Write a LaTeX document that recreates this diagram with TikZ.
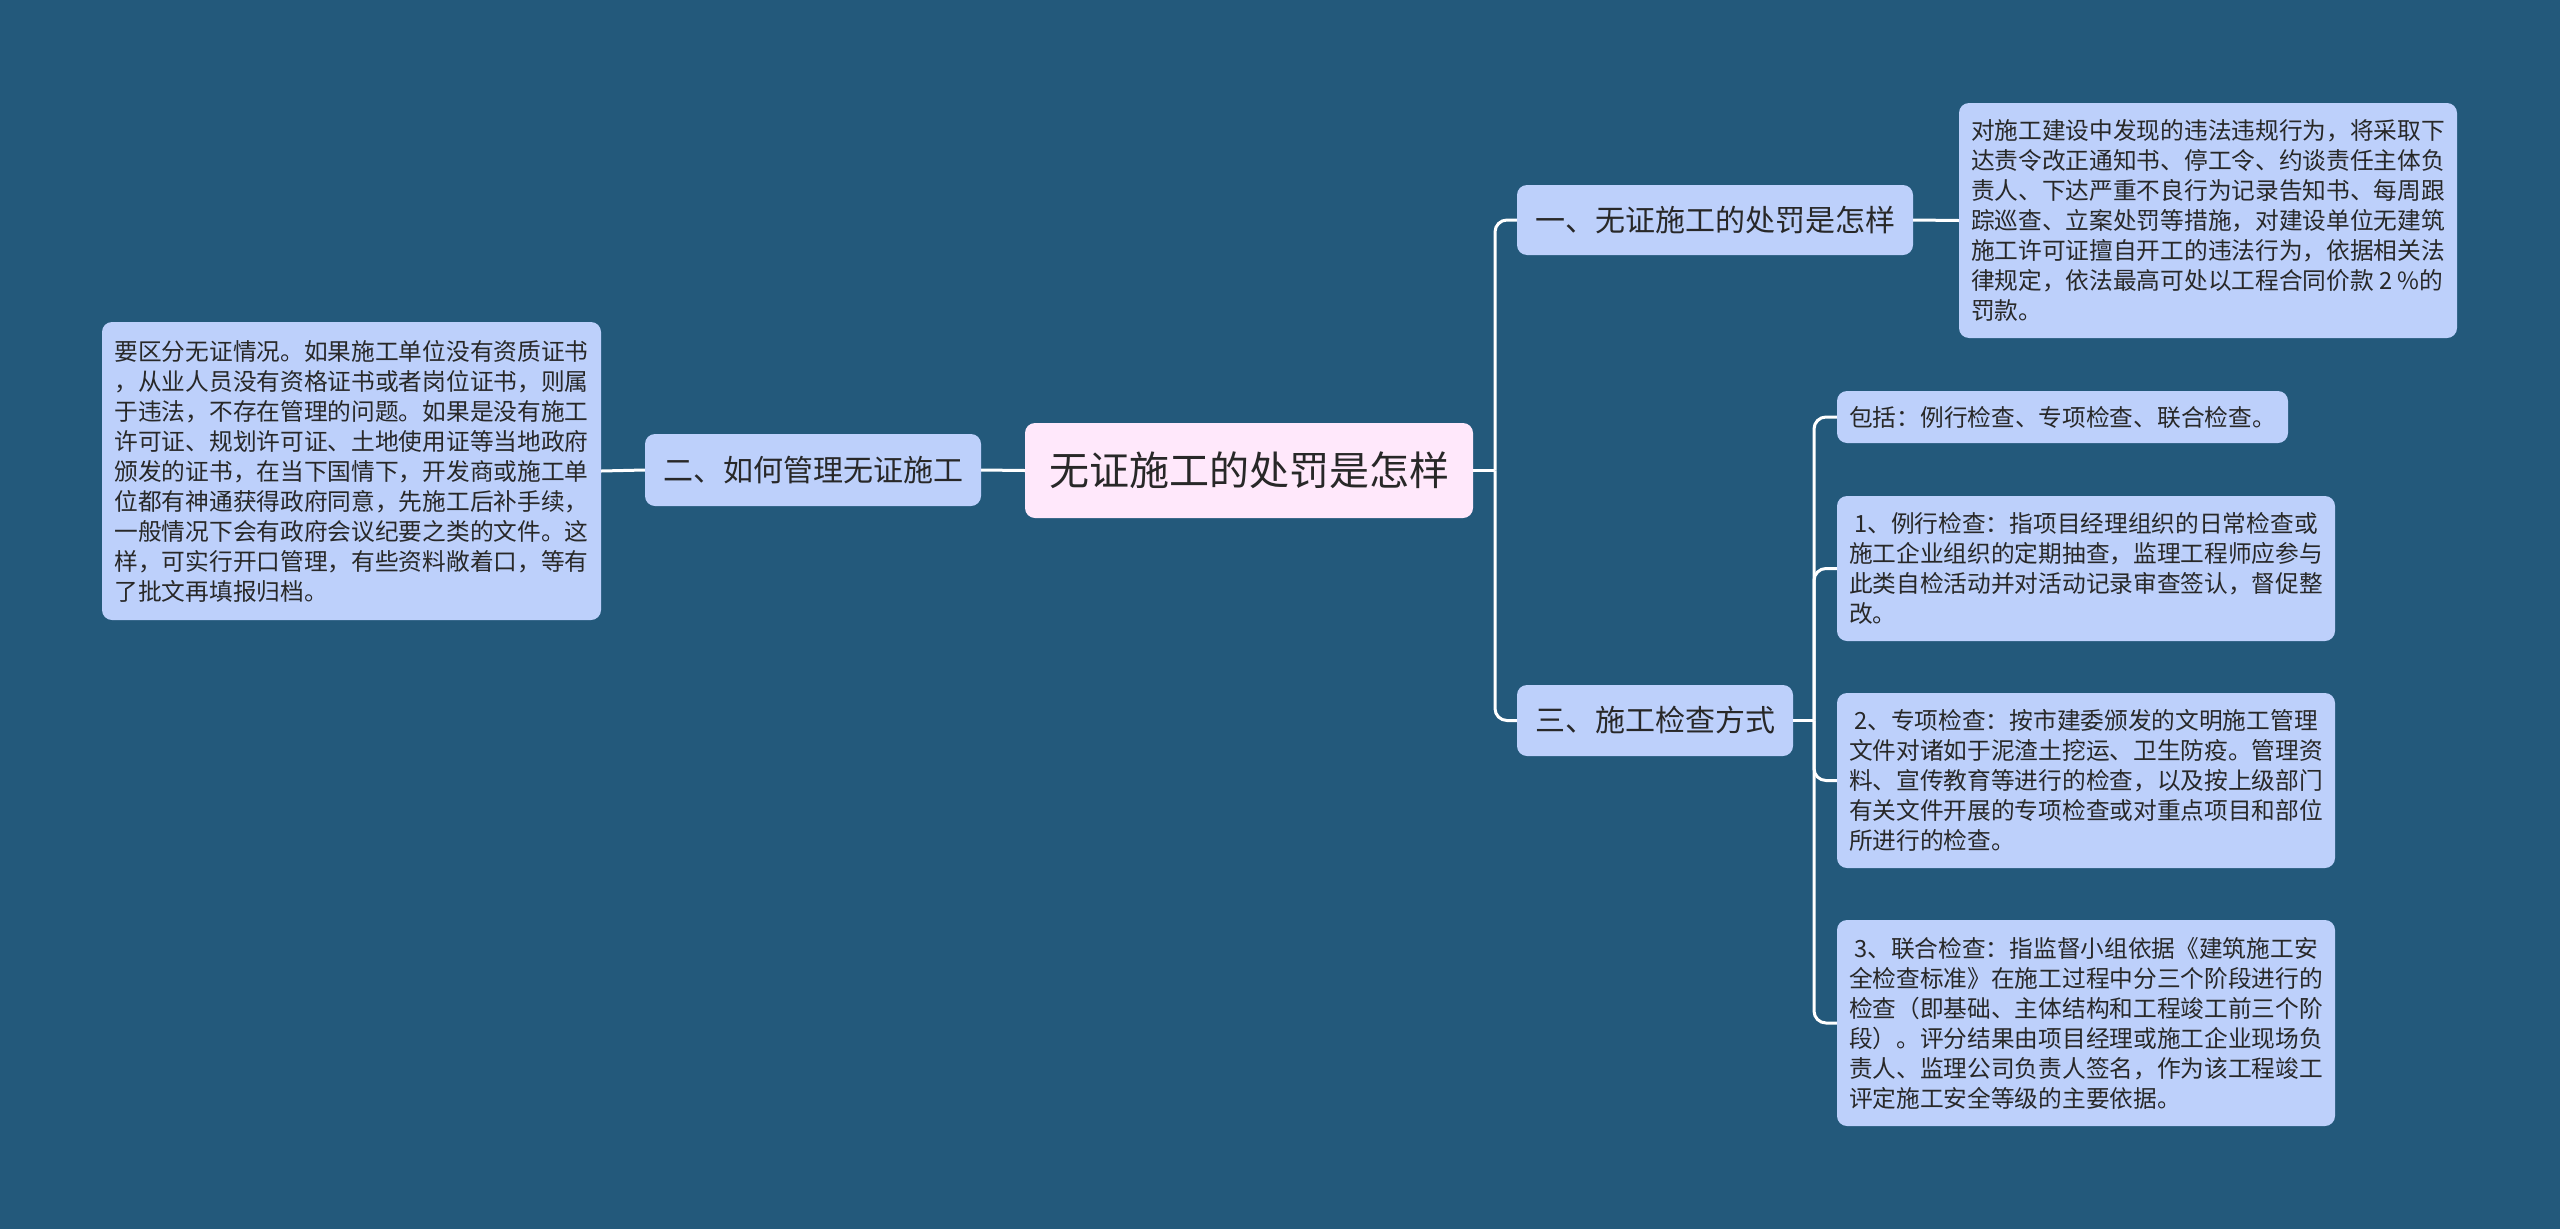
\documentclass[tikz,border=0pt]{standalone}
\usepackage{fontspec}
\setmainfont{Noto Sans CJK SC}
\definecolor{bgc}{RGB}{35,89,123}
\definecolor{boxc}{RGB}{189,208,251}
\definecolor{rootc}{RGB}{255,232,251}
\definecolor{txtc}{RGB}{40,40,40}
\tikzset{
  conn/.style={draw=white,line width=3pt,rounded corners=12pt},
  basebox/.style={fill=boxc,rounded corners=10pt,text=txtc,inner sep=0pt,anchor=center},
  rootbox/.style={basebox,fill=rootc,font=\fontsize{40}{48}\selectfont},
  branchbox/.style={basebox,font=\fontsize{30}{36}\selectfont},
  leafbox/.style={basebox,align=left,font=\fontsize{23.7}{30}\selectfont},
}
\begin{document}
\begin{tikzpicture}[x=1pt,y=-1pt]
\fill[bgc] (0,0) rectangle (2560,1229);
\useasboundingbox (0,0) rectangle (2560,1229);

\node[rootbox,minimum width=448pt,minimum height=95pt] (root) at (1249,470.5) {无证施工的处罚是怎样};

\node[branchbox,minimum width=396pt,minimum height=70pt] (b1) at (1715,220) {一、无证施工的处罚是怎样};
\node[branchbox,minimum width=336pt,minimum height=72pt] (b2) at (813,470) {二、如何管理无证施工};
\node[branchbox,minimum width=276pt,minimum height=71pt] (b3) at (1655,720.5) {三、施工检查方式};

\node[leafbox,minimum width=499pt,minimum height=298pt] (leafL) at (351.5,471) {要区分无证情况。如果施工单位没有资质证书\\，从业人员没有资格证书或者岗位证书，则属\\于违法，不存在管理的问题。如果是没有施工\\许可证、规划许可证、土地使用证等当地政府\\颁发的证书，在当下国情下，开发商或施工单\\位都有神通获得政府同意，先施工后补手续，\\一般情况下会有政府会议纪要之类的文件。这\\样，可实行开口管理，有些资料敞着口，等有\\了批文再填报归档。};

\node[leafbox,minimum width=498pt,minimum height=235pt] (leaf1) at (2208,220.5) {对施工建设中发现的违法违规行为，将采取下\\达责令改正通知书、停工令、约谈责任主体负\\责人、下达严重不良行为记录告知书、每周跟\\踪巡查、立案处罚等措施，对建设单位无建筑\\施工许可证擅自开工的违法行为，依据相关法\\律规定，依法最高可处以工程合同价款 2 \%的\\罚款。};

\node[leafbox,minimum width=451pt,minimum height=52pt] (s0) at (2062.5,417) {包括：例行检查、专项检查、联合检查。};
\node[leafbox,minimum width=498pt,minimum height=145pt] (s1) at (2086,568.5) {\ 1、例行检查：指项目经理组织的日常检查或\\施工企业组织的定期抽查，监理工程师应参与\\此类自检活动并对活动记录审查签认，督促整\\改。};
\node[leafbox,minimum width=498pt,minimum height=175pt] (s2) at (2086,780.5) {\ 2、专项检查：按市建委颁发的文明施工管理\\文件对诸如于泥渣土挖运、卫生防疫。管理资\\料、宣传教育等进行的检查，以及按上级部门\\有关文件开展的专项检查或对重点项目和部位\\所进行的检查。};
\node[leafbox,minimum width=498pt,minimum height=206pt] (s3) at (2086,1023) {\ 3、联合检查：指监督小组依据《建筑施工安\\全检查标准》在施工过程中分三个阶段进行的\\检查（即基础、主体结构和工程竣工前三个阶\\段）。评分结果由项目经理或施工企业现场负\\责人、监理公司负责人签名，作为该工程竣工\\评定施工安全等级的主要依据。};

\coordinate (busA) at (1495,470.5);
\coordinate (busB) at (1814,720.5);

\draw[conn] (root.east) -- (busA);
\draw[conn] (busA) |- (b1.west);
\draw[conn] (busA) |- (b3.west);
\draw[conn] (root.west) -- (b2.east);
\draw[conn] (b2.west) -- (leafL.east);
\draw[conn] (b1.east) -- (leaf1.west);
\draw[conn] (b3.east) -- (busB);
\draw[conn] (busB) |- (s0.west);
\draw[conn] (busB) |- (s1.west);
\draw[conn] (busB) |- (s2.west);
\draw[conn] (busB) |- (s3.west);
\end{tikzpicture}
\end{document}
